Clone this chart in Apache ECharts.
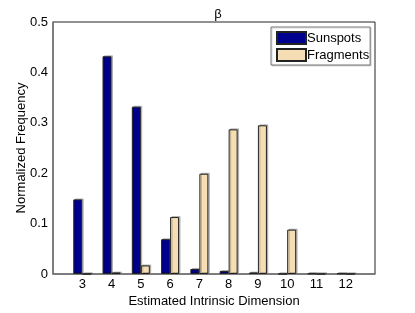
<!DOCTYPE html>
<html><head><meta charset="utf-8">
<script src="https://cdn.jsdelivr.net/npm/echarts@6/dist/echarts.min.js"></script>
<style>html,body{margin:0;padding:0;background:#fff}#c{width:415px;height:313px}</style>
</head><body><div id="c"></div>
<script>
var categories = ['2','3','4','5','6','7','8','9','10','11','12','13'];
var sunspots = [null,0.148,0.432,0.332,0.069,0.010,0.006,0.003,0.000,0.001,0.001,null];
var fragments = [null,0.000,0.003,0.017,0.113,0.199,0.287,0.295,0.088,0.000,0.000,null];
var yTicks = [0,0.1,0.2,0.3,0.4,0.5];
var F = 'Liberation Sans, Arial, sans-serif';
var chart = echarts.init(document.getElementById('c'), null, {renderer:'canvas'});
var barStyle = function(c){return {color:c,borderColor:'#222',borderWidth:1,shadowColor:'rgba(0,0,0,0.22)',shadowBlur:0,shadowOffsetX:1.5,shadowOffsetY:-1};};
chart.setOption({
  animation:false,
  title:{text:'β',left:213,top:3,textAlign:'center',textStyle:{fontFamily:F,fontSize:13,fontWeight:'normal',color:'#000'}},
  grid:{left:53,right:40,top:22,bottom:35,show:true,borderColor:'#222',borderWidth:1,backgroundColor:'#fff'},
  legend:{orient:'vertical',left:271,top:27,itemWidth:29,itemHeight:12,itemGap:3,padding:[4,1,3,5],
    borderColor:'#777',borderWidth:1,backgroundColor:'#fff',shadowColor:'rgba(0,0,0,0.15)',shadowOffsetX:1,shadowOffsetY:1,
    textStyle:{fontFamily:F,fontSize:13,color:'#000',padding:[0,0,0,-4]},
    data:[{name:'Sunspots',icon:'rect'},{name:'Fragments',icon:'rect'}]},
  xAxis:{type:'category',data:categories,boundaryGap:false,
    name:'Estimated Intrinsic Dimension',nameLocation:'middle',nameGap:21,nameMoveOverlap:false,
    nameTextStyle:{fontFamily:F,fontSize:13,color:'#000'},
    axisLine:{lineStyle:{color:'#777',width:1.5}},axisTick:{show:false},
    axisLabel:{fontFamily:F,fontSize:13,color:'#000',margin:4,
      formatter:function(v){return (v==='2'||v==='13')?'':v;}},
    splitLine:{show:false}},
  yAxis:{type:'value',min:yTicks[0],max:yTicks[yTicks.length-1],interval:0.1,
    name:'Normalized Frequency',nameLocation:'middle',nameGap:25,nameMoveOverlap:false,
    nameTextStyle:{fontFamily:F,fontSize:13,color:'#000'},
    axisLine:{show:true,lineStyle:{color:'#777',width:1.5}},axisTick:{show:false},
    axisLabel:{fontFamily:F,fontSize:13,color:'#000',margin:5,
      formatter:function(v){return v===0?'0':String(Math.round(v*10)/10);}},
    splitLine:{show:false}},
  series:[
    {name:'Sunspots',type:'bar',data:sunspots,barWidth:9,barGap:'0%',itemStyle:barStyle('#00008F')},
    {name:'Fragments',type:'bar',data:fragments,barWidth:9,barGap:'0%',itemStyle:barStyle('#F5DEB3')}
  ]
});
</script></body></html>
